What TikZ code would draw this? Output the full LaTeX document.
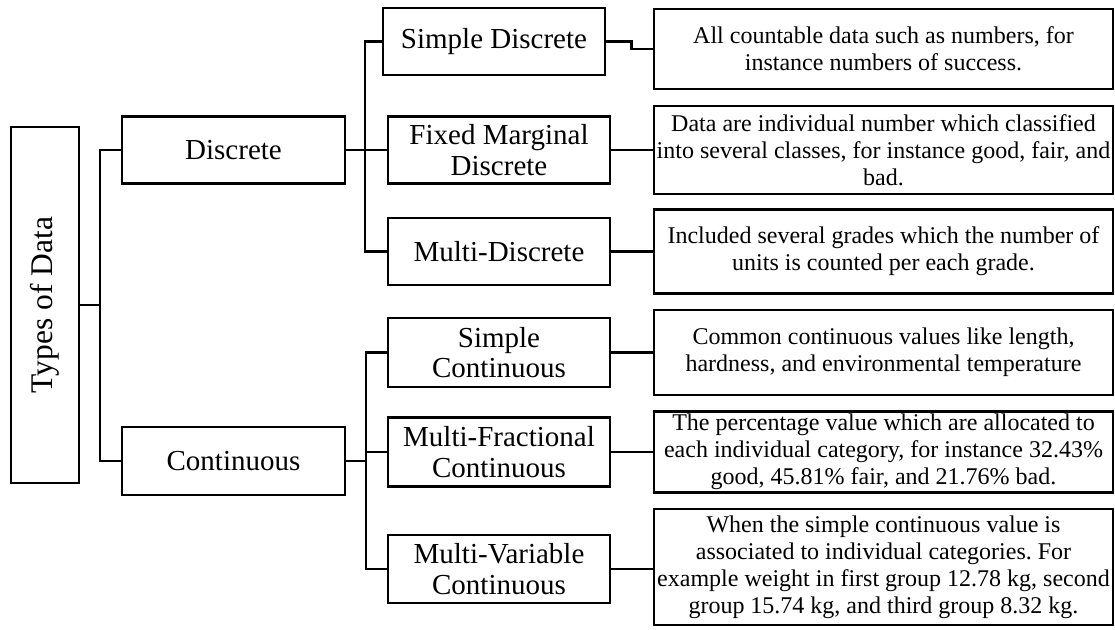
\documentclass[tikz,border=0pt]{standalone}
\usepackage{fontspec}
\setmainfont{Liberation Serif}
\frenchspacing
\begin{document}
\begin{tikzpicture}[x=1pt,y=-1pt,line width=2.9pt,
  box/.style={draw,rectangle,inner sep=0pt,align=center,font=\fontsize{29}{30.5}\selectfont},
  dbox/.style={draw,rectangle,inner sep=0pt,align=center,minimum width=459pt,font=\fontsize{24}{27}\selectfont},
  mid/.style={box,minimum width=222pt,minimum height=68pt}]
\useasboundingbox (0,0) rectangle (1115,629);
% root
\node[draw,rectangle,inner sep=0pt,minimum width=68pt,minimum height=356pt] (root) at (45,305) {};
\node[rotate=90,inner sep=0pt,font=\fontsize{31.5}{33}\selectfont] (roottext) at (root.center) {Types of Data};
% level 1
\node[box,minimum width=223pt,minimum height=67pt] (disc) at (233.5,150) {Discrete};
\node[box,minimum width=223pt,minimum height=68pt] (cont) at (233.5,461) {Continuous};
% level 2
\node[mid,minimum height=67pt] (sd) at (494,41.5) {Simple Discrete};
\node[mid,minimum height=67pt] (fmd) at (499,150) {Fixed Marginal\\Discrete};
\node[mid,minimum height=67pt] (md) at (499,251.5) {Multi-Discrete};
\node[mid,minimum height=69pt] (sc) at (499,352.5) {Simple\\Continuous};
\node[mid,minimum height=69pt] (mfc) at (499,452) {Multi-Fractional\\Continuous};
\node[mid,minimum height=68pt] (mvc) at (499,569) {Multi-Variable\\Continuous};
% descriptions
\node[dbox,minimum height=80pt] (d1) at (883.5,49) {All countable data such as numbers, for\\instance numbers of success.};
\node[dbox,minimum height=88pt] (d2) at (883.5,150) {Data are individual number which classified\\into several classes, for instance good, fair, and\\bad.};
\node[dbox,minimum height=84pt] (d3) at (883.5,251.5) {Included several grades which the number of\\units is counted per each grade.};
\node[dbox,minimum height=85pt] (d4) at (883.5,352.5) {Common continuous values like length,\\hardness, and environmental temperature};
\node[dbox,minimum height=81pt] (d5) at (883.5,452) {The percentage value which are allocated to\\each individual category, for instance 32.43\%\\good, 45.81\% fair, and 21.76\% bad.};
\node[dbox,minimum height=116pt] (d6) at (883.5,567) {When the simple continuous value is\\associated to individual categories. For\\example weight in first group 12.78 kg, second\\group 15.74 kg, and third group 8.32 kg.};
% junctions
\coordinate (j0) at (100,305);
\coordinate (j1) at (365,150);
\coordinate (j2) at (366,461);
% connectors
\draw (root.east |- j0) -- (j0);
\draw (disc.west) -| (j0) |- (cont.west);
\draw (disc.east) -- (j1);
\draw (sd.west) -| (j1) |- (md.west);
\draw (j1) -- (fmd.west);
\draw (cont.east) -- (j2);
\draw (sc.west) -| (j2) |- (mvc.west);
\draw (j2 |- mfc.west) -- (mfc.west);
\draw (sd.east) -- ++(25,0) |- (d1.west);
\draw (fmd.east) -- (fmd.east -| d2.west);
\draw (md.east) -- (md.east -| d3.west);
\draw (sc.east) -- (sc.east -| d4.west);
\draw (mfc.east) -- (mfc.east -| d5.west);
\draw (mvc.east) -- (mvc.east -| d6.west);
\end{tikzpicture}
\end{document}
